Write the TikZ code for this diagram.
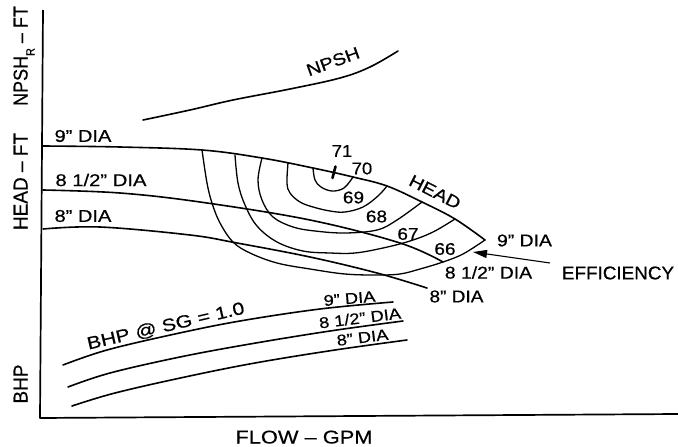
\documentclass[tikz,border=0pt]{standalone}
\usepackage{fontspec}
\setmainfont{Liberation Sans}[FakeBold=0.5]
\usepackage{graphicx}
\usetikzlibrary{arrows.meta}
\newcommand\sx[2]{\scalebox{#1}[1]{#2}}
\begin{document}
\begin{tikzpicture}[x=1pt,y=-1pt,
  axisline/.style={line width=1.7pt, line join=round},
  hcurve/.style={line width=1.6pt, line cap=round},
  econt/.style={line width=1.3pt, line cap=round},
  bcurve/.style={line width=1.6pt, line cap=round},
  lab/.style={inner sep=0pt, font=\fontsize{17}{19}\selectfont},
  blab/.style={inner sep=0pt, font=\fontsize{15.5}{17}\selectfont},
  axlab/.style={inner sep=0pt, font=\fontsize{20}{22}\selectfont},
]
\useasboundingbox (0,0) rectangle (678,447);
% axes
\draw[axisline] (43,10) -- (40,418) -- (678,414);
% axis labels
\node[axlab, rotate=90, anchor=base] (ynpsh) at (27.5,56) {\sx{0.9}{NPSH\raisebox{-0.35em}{\fontsize{12}{12}\selectfont R} -- FT}};
\node[axlab, rotate=90, anchor=base] (yhead) at (27.5,181.5) {\sx{0.95}{HEAD -- FT}};
\node[axlab, rotate=90, anchor=base] (ybhp) at (27.5,384) {\sx{0.95}{BHP}};
\node[axlab, anchor=base, font=\fontsize{18.5}{20}\selectfont] (xflow) at (304,443.5) {\sx{1.18}{FLOW -- GPM}};
% NPSH curve
\draw[hcurve] plot[smooth, tension=0.6] coordinates {(143,120) (190,110) (233,100) (290,89) (340,78) (370,67) (398,51)};
\node[lab, rotate=20, anchor=base] (npsh) at (335,67) {\sx{1.17}{NPSH}};
% head curves
\draw[hcurve] plot[smooth, tension=0.6] coordinates {(43,146) (120,147) (202,150) (262,158) (313,168) (353,177) (387,186) (422,202) (455,219) (485,240)};
\draw[hcurve] plot[smooth, tension=0.6] coordinates {(43,190) (120,193) (200,202) (310,220) (400,243) (443,262)};
\draw[hcurve] plot[smooth, tension=0.6] coordinates {(43,229) (100,227) (190,235) (237,243) (310,257) (377,273) (427,288)};
% efficiency contours
\draw[econt] plot[smooth, tension=0.6] coordinates {(202,150) (207,183) (212,203) (220,223) (233,242) (250,253) (277,263) (310,269) (345,274) (377,275) (400,274) (420,269) (443,262) (463,254) (485,240)};
\draw[econt] plot[smooth, tension=0.6] coordinates {(235,155) (238,183) (245,205) (257,226) (277,242) (303,251) (330,253) (355,253) (383,248) (410,241) (433,232) (455,219)};
\draw[econt] plot[smooth, tension=0.6] coordinates {(262,158) (258,180) (262,200) (273,217) (293,227) (315,231) (345,233) (377,230) (397,220) (422,202)};
\draw[econt] plot[smooth, tension=0.6] coordinates {(288,163) (287,183) (290,193) (300,202) (313,207) (330,211) (345,212) (363,207) (378,196) (387,186)};
\draw[econt] plot[smooth, tension=0.6] coordinates {(313,168) (315,180) (321,187) (332,191) (344,188) (353,177)};
\draw[line width=2.6pt, line cap=round] (332.5,178) -- (335.5,166.5);
% efficiency numbers
\node[lab] (e71) at (342,151) {\sx{1.08}{71}};
\node[lab] (e70) at (362,168.5) {\sx{1.08}{70}};
\node[lab] (e69) at (353.5,197.5) {\sx{1.12}{69}};
\node[lab] (e68) at (376.5,216.5) {\sx{1.12}{68}};
\node[lab] (e67) at (408,234) {\sx{1.12}{67}};
\node[lab] (e66) at (445,249) {\sx{1.12}{66}};
\node[lab, rotate=-27] (head) at (435,192) {\sx{1.17}{HEAD}};
% diameter labels
\node[lab] (l9) at (83,136) {\sx{1.18}{9" DIA}};
\node[lab] (l85) at (101,180) {\sx{1.19}{8 1/2" DIA}};
\node[lab] (l8) at (83,216) {\sx{1.18}{8" DIA}};
\node[lab] (r9) at (524.5,240.5) {\sx{1.14}{9" DIA}};
\node[lab] (r85) at (488.5,272.5) {\sx{1.14}{8 1/2" DIA}};
\node[lab] (r8) at (456.5,296.5) {\sx{1.12}{8" DIA}};
% efficiency arrow
\node[inner sep=0pt, font=\fontsize{18.5}{20}\selectfont] (eff) at (618,273) {\sx{1.02}{EFFICIENCY}};
\coordinate (efftail) at (550,263);
\coordinate (efftip) at (473,252);
\draw[line width=1.1pt, -{Triangle[length=14pt,width=8pt]}] (efftail) -- (efftip);
% BHP curves
\draw[bcurve] plot[smooth, tension=0.6] coordinates {(63,365) (107,350) (175,334) (240,321) (320,309) (393,302)};
\draw[bcurve] plot[smooth, tension=0.6] coordinates {(68,387) (110,373) (180,357) (250,344) (330,331) (403,321)};
\draw[bcurve] plot[smooth, tension=0.6] coordinates {(72,406) (115,393) (185,377) (255,363) (335,350) (407,340)};
\node[inner sep=0pt, font=\fontsize{17.5}{19}\selectfont, rotate=13, anchor=base] (bhpsg) at (167,331.5) {\sx{1.21}{BHP @ SG = 1.0}};
\node[blab, rotate=5] (b9) at (349.5,298.5) {\sx{1.18}{9" DIA}};
\node[blab, rotate=7] (b85) at (360,318) {\sx{1.18}{8 1/2" DIA}};
\node[blab, rotate=7] (b8) at (362.5,337.5) {\sx{1.18}{8" DIA}};
\end{tikzpicture}
\end{document}
